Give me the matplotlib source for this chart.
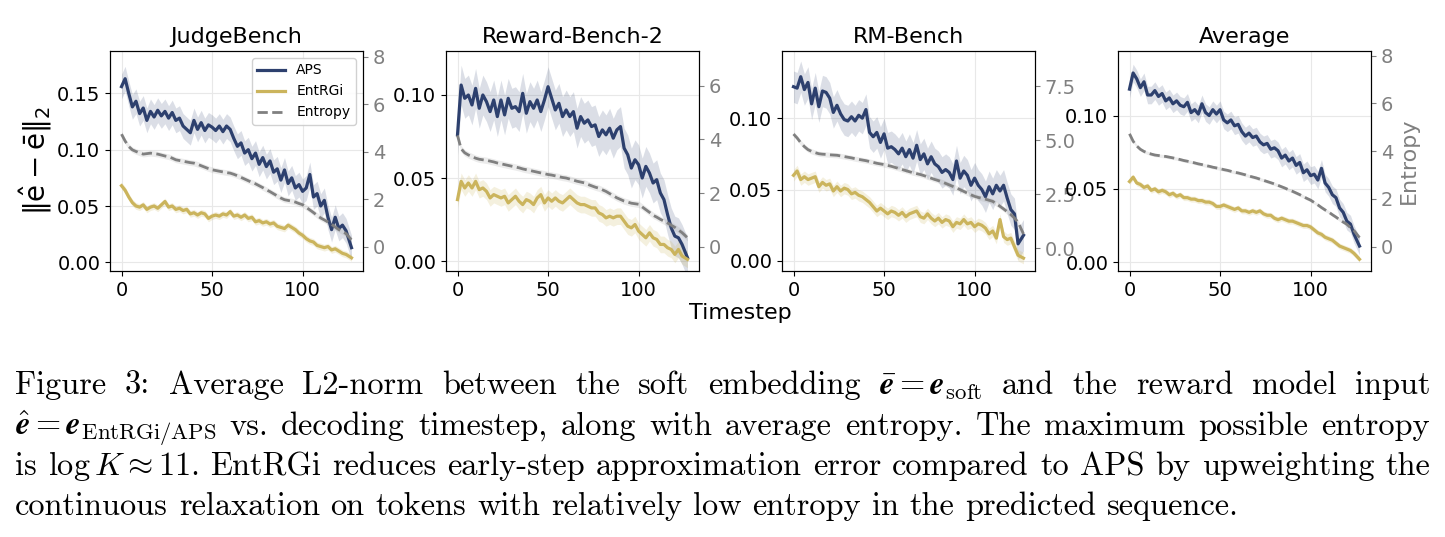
import re
import numpy as np
import matplotlib
matplotlib.use('Agg')
import matplotlib.pyplot as plt
from matplotlib.lines import Line2D

# decoding timesteps (read every other step, last step is 127)
timesteps = list(range(0, 125, 2)) + [127]

benchmarks = ['JudgeBench', 'Reward-Bench-2', 'RM-Bench', 'Average']

# ||e_hat - e_bar||_2 for APS
aps_judge = [0.156, 0.163, 0.150, 0.138, 0.143, 0.132, 0.137, 0.126, 0.134, 0.129,
             0.135, 0.130, 0.134, 0.128, 0.133, 0.126, 0.128, 0.121, 0.118, 0.115,
             0.126, 0.118, 0.124, 0.117, 0.122, 0.120, 0.117, 0.121, 0.116, 0.121,
             0.118, 0.110, 0.103, 0.106, 0.097, 0.100, 0.092, 0.097, 0.087, 0.093,
             0.085, 0.090, 0.080, 0.083, 0.073, 0.082, 0.070, 0.075, 0.066, 0.069,
             0.063, 0.066, 0.078, 0.058, 0.061, 0.050, 0.055, 0.040, 0.029, 0.040,
             0.030, 0.033, 0.028, 0.013]
aps_rb2 = [0.076, 0.106, 0.098, 0.100, 0.094, 0.104, 0.092, 0.100, 0.096, 0.090,
           0.097, 0.087, 0.097, 0.088, 0.098, 0.092, 0.093, 0.090, 0.101, 0.089,
           0.096, 0.092, 0.097, 0.090, 0.097, 0.105, 0.098, 0.091, 0.095, 0.087,
           0.091, 0.087, 0.090, 0.080, 0.087, 0.083, 0.085, 0.081, 0.082, 0.075,
           0.079, 0.076, 0.080, 0.074, 0.079, 0.081, 0.068, 0.064, 0.056, 0.061,
           0.058, 0.050, 0.057, 0.053, 0.047, 0.049, 0.041, 0.037, 0.028, 0.020,
           0.015, 0.014, 0.010, 0.002]
aps_rm = [0.122, 0.121, 0.129, 0.120, 0.125, 0.110, 0.121, 0.108, 0.119, 0.118,
          0.114, 0.104, 0.109, 0.103, 0.099, 0.098, 0.101, 0.098, 0.102, 0.100,
          0.106, 0.090, 0.087, 0.090, 0.083, 0.089, 0.079, 0.080, 0.078, 0.075,
          0.079, 0.073, 0.078, 0.072, 0.081, 0.071, 0.075, 0.068, 0.073, 0.068,
          0.066, 0.062, 0.064, 0.062, 0.057, 0.070, 0.058, 0.063, 0.060, 0.053,
          0.058, 0.053, 0.050, 0.045, 0.052, 0.047, 0.053, 0.049, 0.053, 0.044,
          0.036, 0.033, 0.012, 0.018]
aps_avg = [0.118, 0.129, 0.125, 0.119, 0.123, 0.114, 0.114, 0.117, 0.113, 0.115,
           0.110, 0.112, 0.108, 0.110, 0.107, 0.106, 0.109, 0.102, 0.104, 0.101,
           0.108, 0.102, 0.100, 0.104, 0.101, 0.104, 0.097, 0.095, 0.097, 0.093,
           0.094, 0.089, 0.086, 0.088, 0.085, 0.086, 0.082, 0.080, 0.081, 0.077,
           0.078, 0.076, 0.071, 0.073, 0.069, 0.071, 0.066, 0.068, 0.061, 0.063,
           0.059, 0.060, 0.056, 0.064, 0.054, 0.051, 0.046, 0.044, 0.037, 0.034,
           0.028, 0.026, 0.019, 0.011]

# ||e_hat - e_bar||_2 for EntRGi
ent_judge = [0.068, 0.064, 0.058, 0.053, 0.050, 0.049, 0.051, 0.047, 0.049, 0.050,
             0.048, 0.051, 0.054, 0.049, 0.050, 0.047, 0.048, 0.046, 0.047, 0.043,
             0.044, 0.042, 0.044, 0.043, 0.039, 0.041, 0.042, 0.041, 0.043, 0.042,
             0.045, 0.041, 0.042, 0.040, 0.042, 0.039, 0.040, 0.036, 0.037, 0.035,
             0.036, 0.034, 0.035, 0.032, 0.031, 0.030, 0.033, 0.031, 0.029, 0.026,
             0.024, 0.021, 0.019, 0.018, 0.015, 0.014, 0.013, 0.014, 0.011, 0.012,
             0.010, 0.008, 0.007, 0.004]
ent_rb2 = [0.037, 0.048, 0.044, 0.047, 0.044, 0.048, 0.043, 0.044, 0.042, 0.038,
           0.040, 0.039, 0.038, 0.039, 0.035, 0.037, 0.039, 0.036, 0.034, 0.037,
           0.036, 0.034, 0.038, 0.040, 0.035, 0.038, 0.036, 0.038, 0.036, 0.035,
           0.037, 0.039, 0.037, 0.035, 0.034, 0.034, 0.033, 0.032, 0.032, 0.029,
           0.028, 0.026, 0.027, 0.026, 0.027, 0.027, 0.024, 0.021, 0.020, 0.022,
           0.018, 0.016, 0.014, 0.017, 0.014, 0.013, 0.010, 0.010, 0.008, 0.007,
           0.004, 0.007, 0.003, 0.001]
ent_rm = [0.060, 0.063, 0.057, 0.059, 0.057, 0.058, 0.059, 0.052, 0.055, 0.053,
          0.054, 0.049, 0.052, 0.049, 0.051, 0.050, 0.047, 0.048, 0.046, 0.045,
          0.043, 0.041, 0.038, 0.035, 0.037, 0.035, 0.033, 0.035, 0.034, 0.032,
          0.034, 0.031, 0.033, 0.034, 0.035, 0.031, 0.030, 0.033, 0.030, 0.028,
          0.030, 0.027, 0.029, 0.028, 0.024, 0.027, 0.026, 0.029, 0.026, 0.027,
          0.024, 0.026, 0.025, 0.023, 0.019, 0.021, 0.016, 0.029, 0.017, 0.015,
          0.016, 0.010, 0.004, 0.002]
ent_avg = [0.055, 0.058, 0.054, 0.053, 0.051, 0.052, 0.049, 0.050, 0.048, 0.049,
           0.048, 0.046, 0.047, 0.045, 0.046, 0.044, 0.044, 0.043, 0.043, 0.042,
           0.042, 0.041, 0.041, 0.040, 0.038, 0.038, 0.039, 0.038, 0.037, 0.036,
           0.037, 0.035, 0.035, 0.034, 0.035, 0.034, 0.035, 0.033, 0.032, 0.032,
           0.030, 0.029, 0.030, 0.029, 0.028, 0.028, 0.027, 0.026, 0.025, 0.025,
           0.024, 0.022, 0.020, 0.019, 0.017, 0.016, 0.015, 0.013, 0.011, 0.010,
           0.009, 0.008, 0.006, 0.002]

# average token entropy (right axis)
h_judge = [4.74, 4.45, 4.22, 4.08, 4.01, 3.95, 3.90, 3.92, 3.94, 3.92,
           3.90, 3.86, 3.82, 3.79, 3.73, 3.66, 3.63, 3.60, 3.57, 3.54,
           3.52, 3.47, 3.41, 3.35, 3.29, 3.24, 3.21, 3.18, 3.15, 3.12,
           3.10, 3.05, 2.99, 2.92, 2.85, 2.78, 2.71, 2.65, 2.57, 2.49,
           2.40, 2.32, 2.23, 2.14, 2.05, 1.98, 1.95, 1.92, 1.88, 1.82,
           1.77, 1.66, 1.55, 1.44, 1.32, 1.21, 1.13, 1.04, 0.95, 0.83,
           0.72, 0.64, 0.55, 0.29]
h_rb2 = [4.15, 3.65, 3.50, 3.42, 3.36, 3.30, 3.26, 3.24, 3.22, 3.19,
         3.16, 3.12, 3.09, 3.06, 3.03, 3.00, 2.97, 2.94, 2.90, 2.87,
         2.84, 2.81, 2.78, 2.75, 2.72, 2.69, 2.67, 2.64, 2.61, 2.58,
         2.56, 2.52, 2.48, 2.44, 2.41, 2.38, 2.32, 2.27, 2.22, 2.18,
         2.12, 2.06, 1.98, 1.90, 1.82, 1.76, 1.70, 1.66, 1.62, 1.60,
         1.58, 1.48, 1.38, 1.28, 1.17, 1.10, 1.02, 0.95, 0.88, 0.80,
         0.72, 0.62, 0.52, 0.33]
h_rm = [5.28, 5.10, 4.88, 4.70, 4.56, 4.48, 4.42, 4.37, 4.35, 4.34,
        4.32, 4.31, 4.30, 4.27, 4.24, 4.21, 4.18, 4.14, 4.11, 4.08,
        4.05, 4.01, 3.97, 3.93, 3.90, 3.87, 3.83, 3.79, 3.74, 3.69,
        3.64, 3.59, 3.54, 3.49, 3.45, 3.41, 3.36, 3.30, 3.24, 3.18,
        3.13, 3.07, 3.00, 2.93, 2.86, 2.79, 2.71, 2.63, 2.55, 2.47,
        2.40, 2.35, 2.31, 2.27, 2.22, 2.17, 2.06, 1.94, 1.82, 1.69,
        1.56, 1.40, 1.20, 0.66]
h_avg = [4.73, 4.42, 4.22, 4.08, 3.99, 3.93, 3.88, 3.84, 3.82, 3.80,
         3.78, 3.75, 3.72, 3.69, 3.65, 3.61, 3.58, 3.55, 3.51, 3.47,
         3.44, 3.40, 3.37, 3.33, 3.30, 3.27, 3.23, 3.20, 3.16, 3.12,
         3.09, 3.05, 3.01, 2.96, 2.92, 2.88, 2.83, 2.78, 2.73, 2.68,
         2.63, 2.57, 2.51, 2.45, 2.38, 2.32, 2.25, 2.18, 2.10, 2.02,
         1.95, 1.85, 1.75, 1.64, 1.54, 1.45, 1.34, 1.24, 1.13, 1.03,
         0.94, 0.80, 0.67, 0.38]

# approx. std band half widths per benchmark
aps_spread = [0.011, 0.012, 0.011, 0.006]
ent_spread = [0.003, 0.005, 0.004, 0.002]
h_spread = [0.12, 0.12, 0.12, 0.07]

aps_all = [aps_judge, aps_rb2, aps_rm, aps_avg]
ent_all = [ent_judge, ent_rb2, ent_rm, ent_avg]
h_all = [h_judge, h_rb2, h_rm, h_avg]

APS_COLOR = '#2d406e'
ENT_COLOR = '#cbb45c'
H_COLOR = 'gray'

W, H = 1445, 537
fig = plt.figure(figsize=(W / 100, H / 100), dpi=100)

lefts = [110, 446, 782, 1118]
left_lims = [(-0.0077, 0.1876), (-0.006, 0.1265), (-0.007, 0.147), (-0.006, 0.144)]
right_lims = [(-1.02, 8.24), (-0.91, 7.3), (-1.05, 9.12), (-1.02, 8.2)]
left_ticks = [[0, 0.05, 0.10, 0.15], [0, 0.05, 0.10], [0, 0.05, 0.10], [0, 0.05, 0.10]]
right_ticks = [[0, 2, 4, 6, 8], [0, 2, 4, 6], [0, 2.5, 5.0, 7.5], [0, 2, 4, 6, 8]]

x = np.array(timesteps)
for i, name in enumerate(benchmarks):
    ax = fig.add_axes([lefts[i] / W, 1 - 271 / H, 253 / W, 220 / H])
    aps = np.array(aps_all[i])
    ent = np.array(ent_all[i])
    h = np.array(h_all[i])

    ax.fill_between(x, aps - aps_spread[i], aps + aps_spread[i], color=APS_COLOR, alpha=0.17, lw=0)
    ax.plot(x, aps, color=APS_COLOR, lw=2.3)
    ax.fill_between(x, ent - ent_spread[i], ent + ent_spread[i], color=ENT_COLOR, alpha=0.2, lw=0)
    ax.plot(x, ent, color=ENT_COLOR, lw=2.3)
    ax.grid(True, color='#e8e8e8', lw=0.8)
    ax.set_axisbelow(True)
    ax.set_xlim(-6.35, 133.35)
    ax.set_ylim(*left_lims[i])
    ax.set_yticks(left_ticks[i])
    ax.set_yticklabels(['%.2f' % t for t in left_ticks[i]])
    ax.set_xticks([0, 50, 100])
    ax.tick_params(labelsize=14)
    ax.set_title(name, fontsize=16)

    ax2 = ax.twinx()
    ax2.fill_between(x, h - h_spread[i], h + h_spread[i], color=H_COLOR, alpha=0.15, lw=0)
    ax2.plot(x, h, color=H_COLOR, ls='--', lw=2)
    ax2.set_ylim(*right_lims[i])
    ax2.set_yticks(right_ticks[i])
    ax2.tick_params(axis='y', labelsize=14, colors='gray')

    if i == 0:
        ax.set_ylabel(r'$\|\hat{\mathrm{e}} - \bar{\mathrm{e}}\|_2$', fontsize=20, labelpad=2)
        handles = [Line2D([], [], color=APS_COLOR, lw=2.3, label='APS'),
                   Line2D([], [], color=ENT_COLOR, lw=2.3, label='EntRGi'),
                   Line2D([], [], color=H_COLOR, lw=2, ls='--', label='Entropy')]
        ax2.legend(handles=handles, loc='upper right', fontsize=10, framealpha=0.9)
    if i == 3:
        ax2.set_ylabel('Entropy', fontsize=16, color='gray')

fig.text(740 / W, 1 - 313 / H, 'Timestep', ha='center', va='center', fontsize=16)

# caption, justified like the paper
renderer = fig.canvas.get_renderer()


def measure(s, fs):
    t = fig.text(0, 0, s, fontsize=fs, family='cmr10', math_fontfamily='cm')
    w = t.get_window_extent(renderer).width
    t.remove()
    return w


try:
    measure(r'$\boldsymbol{e}$', 20)
    BF = r'\boldsymbol'
except Exception:
    BF = r'\mathbf'

caption = [
    (r'Figure 3:  Average L2-norm between the soft embedding $\bar{BF{e}}=BF{e}_{\mathrm{soft}}$ and the reward model input', True),
    (r'$\hat{BF{e}}=BF{e}_{\mathrm{EntRGi/APS}}$ vs. decoding timestep, along with average entropy. The maximum possible entropy', True),
    (r'is $\log K \approx 11$. EntRGi reduces early-step approximation error compared to APS by upweighting the', True),
    (r'continuous relaxation on tokens with relatively low entropy in the predicted sequence.', False),
]
caption = [(s.replace('BF', BF), j) for s, j in caption]
baselines = [394, 435, 475, 515]
x_left, x_right = 15, 1430

# fit the font so the last (natural) line has the paper's width
fs0 = 20
words = re.findall(r'\S*\$[^$]*\$\S*|\S+', caption[3][0])
nat = sum(measure(w, fs0) for w in words) + (len(words) - 1) * fs0 * 100 / 72 * 0.333
fs = fs0 * (1240 - x_left) / nat

for (line, justify), yb in zip(caption, baselines):
    words = re.findall(r'\S*\$[^$]*\$\S*|\S+', line)
    widths = [measure(w, fs) for w in words]
    if justify:
        gap = (x_right - x_left - sum(widths)) / (len(words) - 1)
    else:
        gap = fs * 100 / 72 * 0.333
    xp = x_left
    for w, wd in zip(words, widths):
        fig.text(xp / W, 1 - yb / H, w, fontsize=fs, family='cmr10', math_fontfamily='cm',
                 ha='left', va='baseline')
        xp += wd + gap

fig.savefig('out.png', dpi=100)
